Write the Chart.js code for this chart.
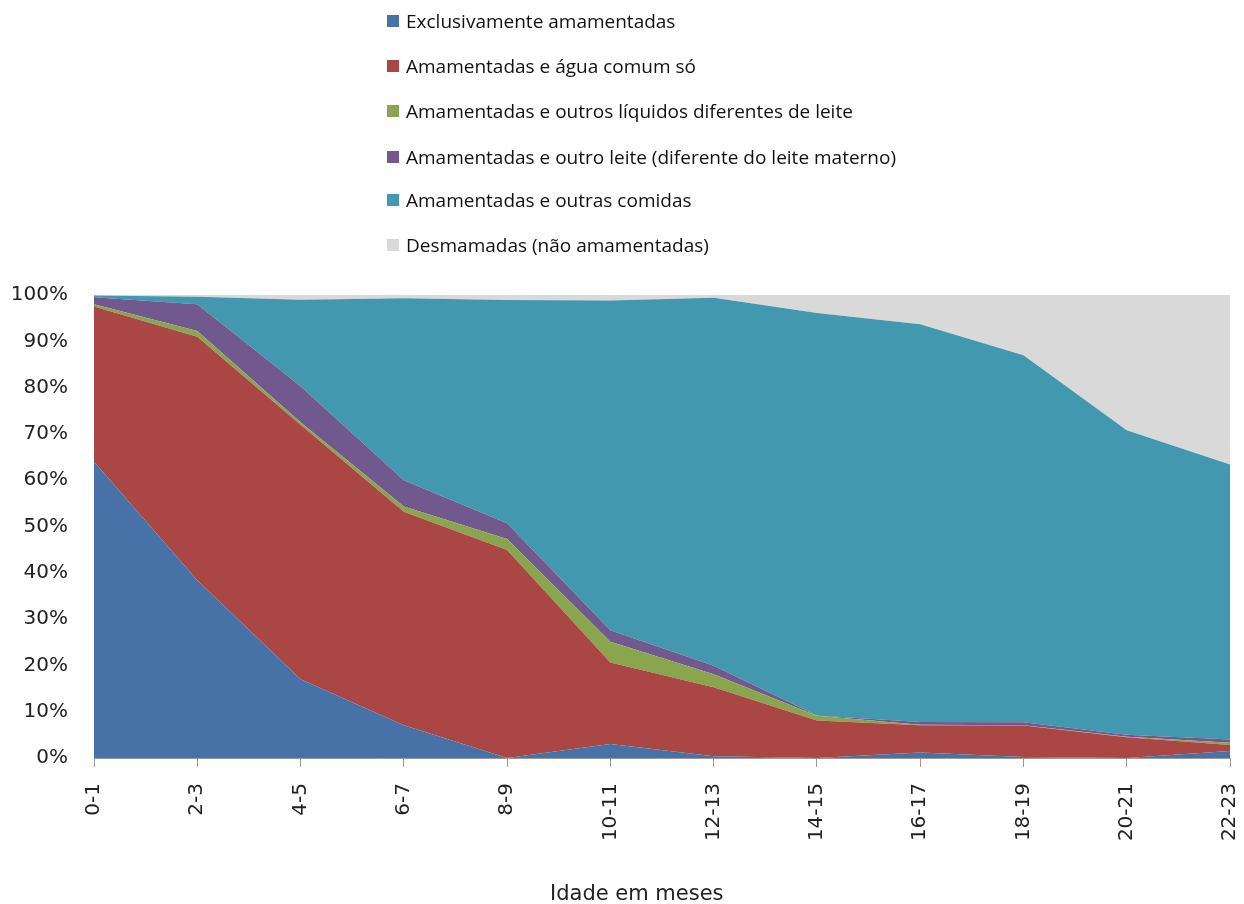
<!DOCTYPE html>
<html>
<head>
<meta charset="utf-8">
<script src="https://cdn.jsdelivr.net/npm/chart.js@4.4.1/dist/chart.umd.min.js"></script>
<style>
  html, body { margin: 0; padding: 0; background: #fff; }
  #wrap { position: relative; width: 1244px; height: 904px; }
  #chart { position: absolute; left: 0; top: 0; }
  #legend { position: absolute; left: 387px; top: 0; font-family: "Open Sans", sans-serif; font-size: 19px; color: #111; }
  .leg-item { position: absolute; left: 0; white-space: nowrap; height: 22px; line-height: 22px; }
  .leg-box { position: absolute; left: 0; top: 5px; width: 12px; height: 12px; }
  .leg-text { position: absolute; left: 19px; top: 0; }
  #xtitle { position: absolute; left: 550px; top: 883px; font-family: "DejaVu Sans", sans-serif; font-size: 21px; line-height: 1; color: #222; white-space: nowrap; }
</style>
</head>
<body>
<div id="wrap">
  <canvas id="chart" width="1244" height="904"></canvas>
  <div id="legend"></div>
  <div id="xtitle">Idade em meses</div>
</div>
<script>
// age groups (months)
const categories = ['0-1', '2-3', '4-5', '6-7', '8-9', '10-11', '12-13', '14-15', '16-17', '18-19', '20-21', '22-23'];

// percent of children in each feeding group
const exclusivas   = [64.0, 38.4, 17.0, 7.1, 0.0, 3.0, 0.4, 0.0, 1.2, 0.2, 0.0, 1.5];
const aguaSo       = [33.5, 52.6, 55.0, 46.1, 44.9, 17.6, 14.9, 8.1, 5.9, 6.8, 4.5, 1.3];
const outrosLiq    = [0.5, 1.2, 0.5, 1.1, 2.4, 4.5, 2.8, 1.0, 0.1, 0.1, 0.1, 0.5];
const outroLeite   = [1.5, 5.8, 7.8, 5.7, 3.4, 2.5, 1.8, 0.1, 0.6, 0.6, 0.4, 0.7];
const outrasComidas = [0.4, 1.6, 18.7, 39.3, 48.2, 71.2, 79.5, 86.9, 85.9, 79.3, 65.8, 59.4];
const desmamadas   = [0.1, 0.4, 1.0, 0.7, 1.1, 1.2, 0.6, 3.9, 6.3, 13.0, 29.2, 36.6];

const seriesLabels = [
  'Exclusivamente amamentadas',
  'Amamentadas e água comum só',
  'Amamentadas e outros líquidos diferentes de leite',
  'Amamentadas e outro leite (diferente do leite materno)',
  'Amamentadas e outras comidas',
  'Desmamadas (não amamentadas)'
];
const seriesData = [exclusivas, aguaSo, outrosLiq, outroLeite, outrasComidas, desmamadas];
const colors = ['#4672A7', '#AA4744', '#89A54E', '#71598F', '#4298AF', '#D9D9D9'];

const yTicks = [0, 10, 20, 30, 40, 50, 60, 70, 80, 90, 100];

const datasets = seriesData.map((d, i) => ({
  label: seriesLabels[i],
  data: d,
  backgroundColor: colors[i],
  borderColor: colors[i],
  borderWidth: 0,
  pointRadius: 0,
  tension: 0,
  fill: i === 0 ? 'origin' : '-1'
}));

new Chart(document.getElementById('chart').getContext('2d'), {
  type: 'line',
  data: { labels: categories, datasets },
  options: {
    responsive: false,
    animation: false,
    layout: { padding: { top: 295, right: 14, left: 0, bottom: 0 } },
    plugins: { legend: { display: false }, tooltip: { enabled: false } },
    scales: {
      x: {
        offset: false,
        grid: { display: true, drawOnChartArea: false, drawTicks: true, tickLength: 9, color: '#9a9a9a' },
        border: { display: true, color: '#9a9a9a', width: 1 },
        ticks: {
          autoSkip: false, minRotation: 90, maxRotation: 90, padding: 16,
          color: '#222', font: { family: 'DejaVu Sans', size: 20 }
        },
        afterFit: s => { s.height = 146; s.paddingLeft = 0; s.paddingRight = 0; }
      },
      y: {
        stacked: true,
        min: 0, max: 100,
        afterBuildTicks: s => { s.ticks = yTicks.map(v => ({ value: v })); },
        grid: { display: false, drawTicks: false },
        border: { display: true, color: '#9a9a9a', width: 1 },
        ticks: {
          padding: 26, color: '#222', font: { family: 'DejaVu Sans', size: 20 },
          callback: v => v + '%'
        },
        afterFit: s => { s.width = 94; s.paddingTop = 0; s.paddingBottom = 0; }
      }
    }
  }
});

// vertical legend list, one entry per row
const rowTops = [10, 55, 100, 146, 189, 234];
const legend = document.getElementById('legend');
seriesLabels.forEach((lbl, i) => {
  const item = document.createElement('div');
  item.className = 'leg-item';
  item.style.top = rowTops[i] + 'px';
  item.innerHTML = `<span class="leg-box" style="background:${colors[i]}"></span><span class="leg-text">${lbl}</span>`;
  legend.appendChild(item);
});
</script>
</body>
</html>
